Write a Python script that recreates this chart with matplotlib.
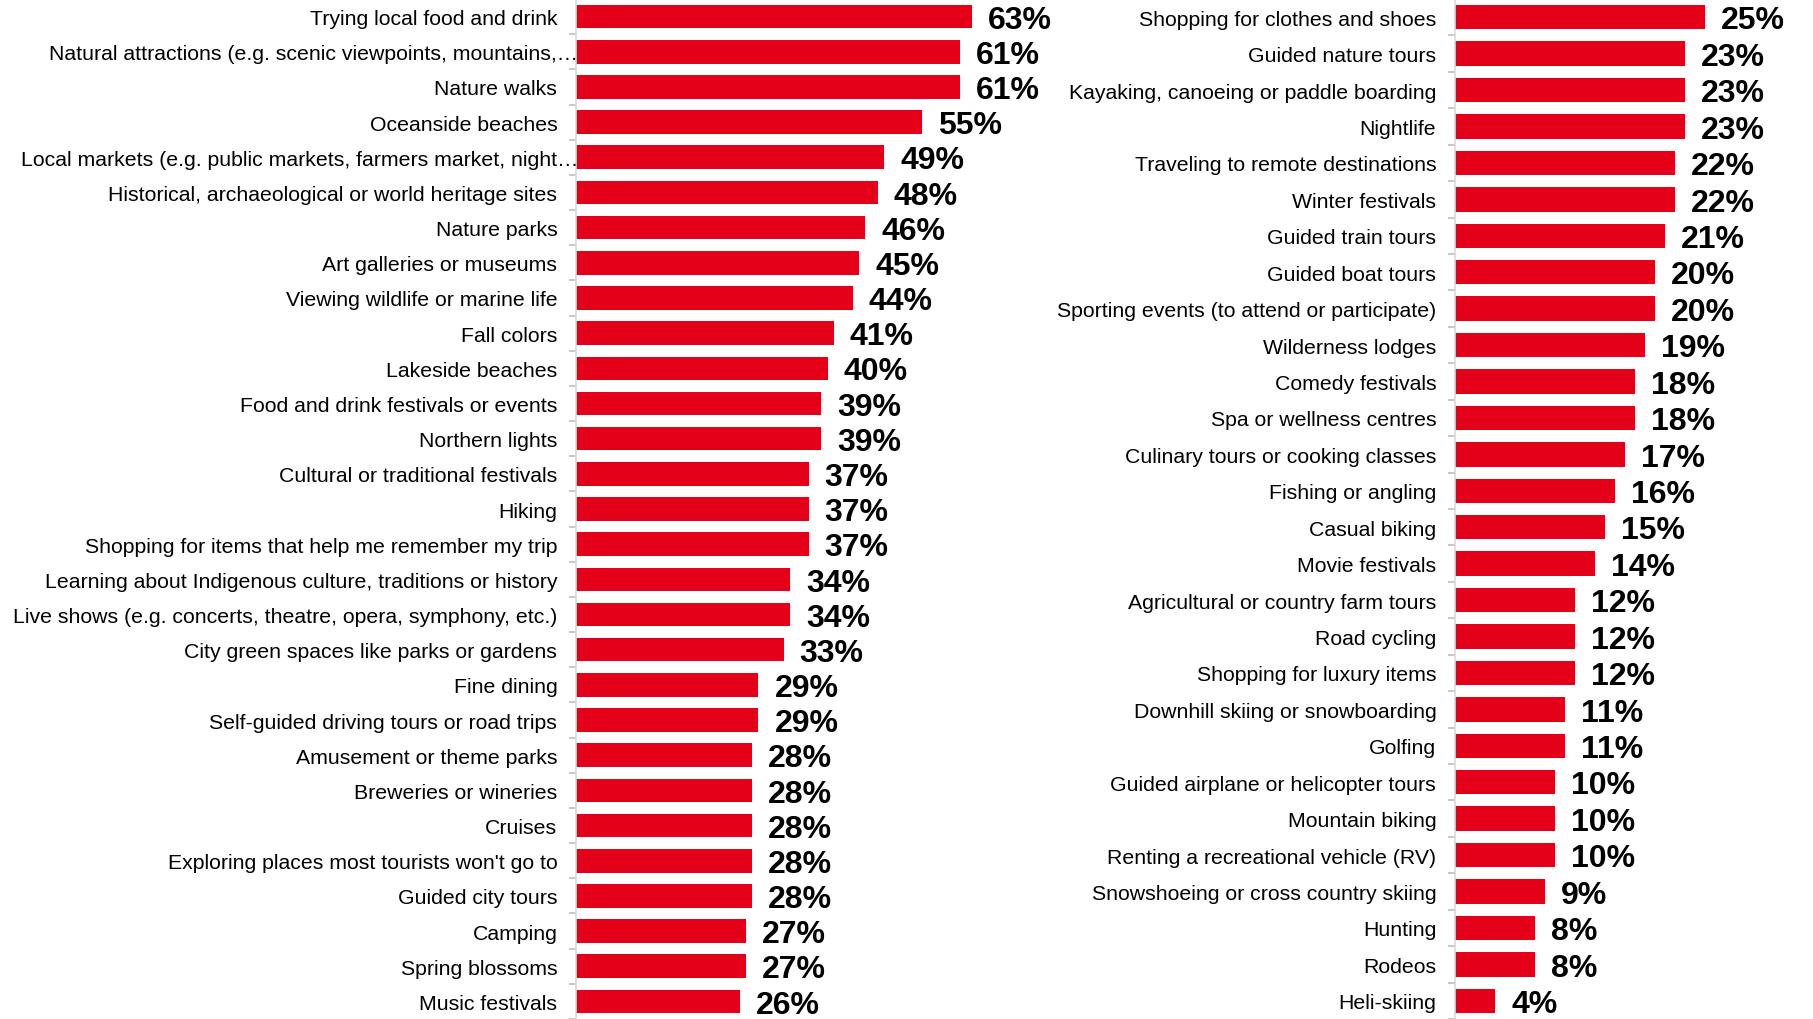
import matplotlib
matplotlib.use("Agg")
import matplotlib.pyplot as plt
import numpy as np

plt.rcParams['font.family'] = ['Liberation Sans', 'DejaVu Sans']

left_labels = [
    "Trying local food and drink",
    "Natural attractions (e.g. scenic viewpoints, mountains,\u2026",
    "Nature walks",
    "Oceanside beaches",
    "Local markets (e.g. public markets, farmers market, night\u2026",
    "Historical, archaeological or world heritage sites",
    "Nature parks",
    "Art galleries or museums",
    "Viewing wildlife or marine life",
    "Fall colors",
    "Lakeside beaches",
    "Food and drink festivals or events",
    "Northern lights",
    "Cultural or traditional festivals",
    "Hiking",
    "Shopping for items that help me remember my trip",
    "Learning about Indigenous culture, traditions or history",
    "Live shows (e.g. concerts, theatre, opera, symphony, etc.)",
    "City green spaces like parks or gardens",
    "Fine dining",
    "Self-guided driving tours or road trips",
    "Amusement or theme parks",
    "Breweries or wineries",
    "Cruises",
    "Exploring places most tourists won't go to",
    "Guided city tours",
    "Camping",
    "Spring blossoms",
    "Music festivals",
]
left_values = [63, 61, 61, 55, 49, 48, 46, 45, 44, 41, 40, 39, 39, 37, 37, 37,
               34, 34, 33, 29, 29, 28, 28, 28, 28, 28, 27, 27, 26]

right_labels = [
    "Shopping for clothes and shoes",
    "Guided nature tours",
    "Kayaking, canoeing or paddle boarding",
    "Nightlife",
    "Traveling to remote destinations",
    "Winter festivals",
    "Guided train tours",
    "Guided boat tours",
    "Sporting events (to attend or participate)",
    "Wilderness lodges",
    "Comedy festivals",
    "Spa or wellness centres",
    "Culinary tours or cooking classes",
    "Fishing or angling",
    "Casual biking",
    "Movie festivals",
    "Agricultural or country farm tours",
    "Road cycling",
    "Shopping for luxury items",
    "Downhill skiing or snowboarding",
    "Golfing",
    "Guided airplane or helicopter tours",
    "Mountain biking",
    "Renting a recreational vehicle (RV)",
    "Snowshoeing or cross country skiing",
    "Hunting",
    "Rodeos",
    "Heli-skiing",
]
right_values = [25, 23, 23, 23, 22, 22, 21, 20, 20, 19, 18, 18, 17, 16, 15, 14,
                12, 12, 12, 11, 11, 10, 10, 10, 9, 8, 8, 4]

RED = '#E50019'
W, H = 1813, 1020


def draw_panel(ax, labels, values, xmax, px_per_unit):
    n = len(labels)
    y = np.arange(n)
    ax.barh(y, values, height=0.67, color=RED, edgecolor='none')
    ax.set_ylim(n - 0.5, -0.5)
    ax.set_xlim(0, xmax)
    ax.set_yticks(y)
    # truncated labels (ending with an ellipsis) run up to the axis line
    tick_text = ['' if lab.endswith('\u2026') else lab for lab in labels]
    ax.set_yticklabels(tick_text, fontsize=15.3, color='#000000')
    for yi, lab in zip(y, labels):
        if lab.endswith('\u2026'):
            ax.annotate(lab, xy=(0, yi), xycoords=('axes fraction', 'data'),
                        xytext=(1.5, 0), textcoords='offset points',
                        ha='right', va='center_baseline', fontsize=15.3,
                        color='#000000', annotation_clip=False)
    ax.set_yticks(np.arange(n + 1) - 0.5, minor=True)
    ax.tick_params(axis='y', which='major', length=0, pad=13.5)
    ax.tick_params(axis='y', which='minor', length=5, width=1.2, color='#BFBFBF')
    ax.set_xticks([])
    for s in ['top', 'right', 'bottom']:
        ax.spines[s].set_visible(False)
    ax.spines['left'].set_color('#D9D9D9')
    ax.spines['left'].set_linewidth(1.2)
    offset = 16 / px_per_unit
    for yi, v in zip(y, values):
        ax.text(v + offset, yi + 0.09, f"{v}%", va='center', ha='left',
                fontsize=23, fontweight='bold', color='#000000', clip_on=False)


fig = plt.figure(figsize=(W / 100, H / 100), dpi=100)

# left panel: 6.29 px per percent, spine at x=576
l_xmax = 75
ax1 = fig.add_axes([576 / W, 0, l_xmax * 6.29 / W, 1])
draw_panel(ax1, left_labels, left_values, l_xmax, 6.29)

# right panel: 10 px per percent, spine at x=1455
r_xmax = 30
ax2 = fig.add_axes([1455 / W, 0, r_xmax * 10.0 / W, 1])
draw_panel(ax2, right_labels, right_values, r_xmax, 10.0)

fig.savefig("out.png", dpi=100, facecolor='white')
plt.close(fig)
